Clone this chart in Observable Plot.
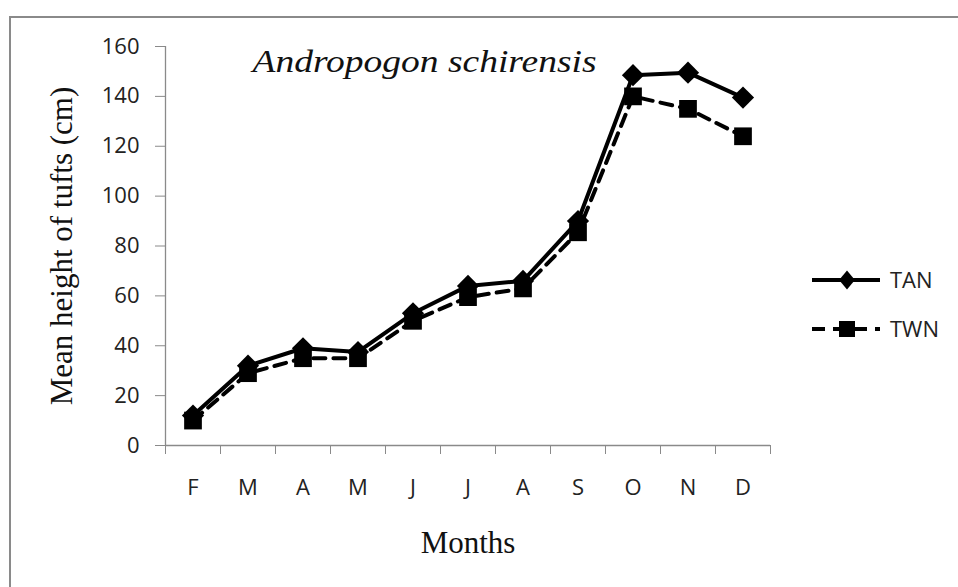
<!DOCTYPE html>
<html>
<head>
<meta charset="utf-8">
<script src="https://cdn.jsdelivr.net/npm/d3@7"></script>
<script src="https://cdn.jsdelivr.net/npm/@observablehq/plot@0.6"></script>
<style>
  html, body { margin: 0; padding: 0; background: #fff; overflow: hidden; }
  #wrap { position: relative; width: 958px; height: 587px; overflow: hidden; background: #fff; }
  #frame { position: absolute; left: 9px; top: 16px; width: 1000px; height: 700px; border: 2px solid #8a8a8a; box-sizing: border-box; }
  #chart { position: absolute; left: 0; top: 0; }
  #legend { position: absolute; left: 800px; top: 258px; }
</style>
</head>
<body>
<div id="wrap">
  <div id="frame"></div>
  <div id="chart"></div>
  <div id="legend"></div>
</div>
<script>
const months = ["F", "M", "A", "M", "J", "J", "A", "S", "O", "N", "D"];
const tan = [12, 32, 39, 37.5, 53, 64, 66, 90, 148.5, 149.5, 139.5];
const twn = [10, 29, 35, 35, 50, 59.5, 63, 85.5, 140, 135, 124];
const yTicks = [0, 20, 40, 60, 80, 100, 120, 140, 160];
const seriesNames = ["TAN", "TWN"];
const title = "Andropogon schirensis";
const yLabel = "Mean height of tufts (cm)";
const xLabel = "Months";

const tanData = months.map((m, i) => ({i: i + 0.5, v: tan[i]}));
const twnData = months.map((m, i) => ({i: i + 0.5, v: twn[i]}));

const sans = "'Open Sans', Lato, sans-serif";
const serif = "'Liberation Serif', 'Times New Roman', serif";
const axisGray = "#8a8a8a";

const chart = Plot.plot({
  width: 958,
  height: 587,
  marginLeft: 165,
  marginRight: 188,
  marginTop: 46,
  marginBottom: 142,
  style: {background: "transparent", color: "#222", fontFamily: sans},
  x: {type: "linear", domain: [0, months.length]},
  y: {domain: [0, 160]},
  marks: [
    Plot.axisY({ticks: yTicks, tickSize: 10, tickPadding: 16, stroke: axisGray, fontSize: 22, fontFamily: sans, fill: "#222", label: null}),
    Plot.axisX({ticks: d3.range(0, months.length + 1), tickSize: 9, tickFormat: () => "", stroke: axisGray, label: null}),
    Plot.axisX({ticks: d3.range(months.length).map(i => i + 0.5), tickSize: 0, tickPadding: 34, tickFormat: d => months[Math.floor(d)], fontSize: 22, fontFamily: sans, fill: "#222", label: null}),
    Plot.ruleX([0], {stroke: axisGray, strokeWidth: 1.3}),
    Plot.ruleY([0], {stroke: axisGray, strokeWidth: 1.3}),
    Plot.line(tanData, {x: "i", y: "v", stroke: "black", strokeWidth: 4}),
    Plot.dot(tanData, {x: "i", y: "v", symbol: "diamond2", r: 10, fill: "black", stroke: "none"}),
    Plot.line(twnData, {x: "i", y: "v", stroke: "black", strokeWidth: 4, strokeDasharray: "12,8"}),
    Plot.dot(twnData, {x: "i", y: "v", symbol: "square", r: 10, fill: "black", stroke: "none"}),
    Plot.text([title], {frameAnchor: "top-left", textAnchor: "start", lineAnchor: "middle", dx: 87, dy: 15, fontSize: 32, fontStyle: "italic", fontFamily: serif, fill: "#111"}),
    Plot.text([yLabel], {frameAnchor: "left", textAnchor: "middle", rotate: -90, lineAnchor: "middle", dx: -103, fontSize: 31, fontFamily: serif, fill: "#111"}),
    Plot.text([xLabel], {frameAnchor: "bottom", textAnchor: "middle", lineAnchor: "middle", dy: 98, fontSize: 31, fontFamily: serif, fill: "#111"})
  ]
});
// stretch title to match reference width
d3.select(chart).selectAll("text").filter(function() { return this.textContent === title; })
  .attr("textLength", 344).attr("lengthAdjust", "spacingAndGlyphs");
document.getElementById("chart").appendChild(chart);

// legend
const lg = d3.select("#legend").append("svg").attr("width", 150).attr("height", 90)
  .style("font-family", sans).style("font-size", "22px");
seriesNames.forEach((name, k) => {
  const g = lg.append("g").attr("transform", `translate(0,${22 + k * 49})`);
  g.append("line").attr("x1", 12).attr("x2", 80).attr("y1", 0).attr("y2", 0)
    .attr("stroke", "black").attr("stroke-width", 4)
    .attr("stroke-dasharray", k === 1 ? "13,8" : null);
  if (k === 0) {
    g.append("path").attr("d", d3.symbol(d3.symbolDiamond2, 160)()).attr("transform", "translate(47,0) scale(1,1.2)").attr("fill", "black");
  } else {
    g.append("rect").attr("x", 39).attr("y", -8).attr("width", 16).attr("height", 16).attr("fill", "black");
  }
  g.append("text").attr("x", 90).attr("y", 0).attr("dy", "0.35em").attr("fill", "#222").text(name);
});
</script>
</body>
</html>
